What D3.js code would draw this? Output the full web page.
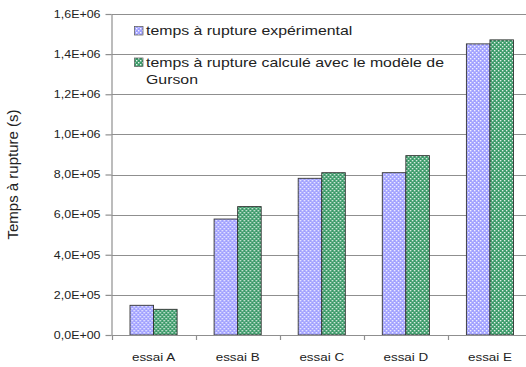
<!DOCTYPE html>
<html><head><meta charset="utf-8">
<script src="https://cdn.jsdelivr.net/npm/d3@7"></script>
<style>
html,body{margin:0;padding:0;background:#fff;}
svg{display:block;font-family:"Liberation Sans",Arial,sans-serif;}
</style></head>
<body>
<svg id="chart" width="526" height="367"></svg>
<script>
const categories = ["essai A","essai B","essai C","essai D","essai E"];
const seriesNames = ["temps à rupture expérimental","temps à rupture calculé avec le modèle de Gurson"];
const experimental = [148000, 578000, 781000, 809000, 1451000];
const gurson = [128000, 640000, 809000, 894000, 1471000];
const yTicks = [0,200000,400000,600000,800000,1000000,1200000,1400000,1600000];
const yTitle = "Temps à rupture (s)";

(function(){
const svg = d3.select("#chart");
const W = 526, H = 367;
const mLeft = 111.5, mRight = 532, mTop = 14, mBottom = 335;
const SX = 1.22; // horizontal text stretch seen in the reference

const defs = svg.append("defs");
function pat(id, base){
  const p = defs.append("pattern").attr("id", id).attr("patternUnits","userSpaceOnUse")
    .attr("width",4).attr("height",4);
  p.append("rect").attr("width",4).attr("height",4).attr("fill",base);
  p.append("rect").attr("x",0).attr("y",0).attr("width",1.4).attr("height",1.4).attr("fill","#fff").attr("opacity",0.9);
  p.append("rect").attr("x",2).attr("y",2).attr("width",1.4).attr("height",1.4).attr("fill","#fff").attr("opacity",0.9);
}
pat("pBlue", "#a0a0ff");
pat("pGreen", "#3a9a68");
const fills = ["url(#pBlue)","url(#pGreen)"];

const y = d3.scaleLinear().domain([0,1600000]).range([mBottom, mTop]);
const x = d3.scaleBand().domain(categories).range([mLeft, mRight]).padding(0);
const bw = x.bandwidth();
const xs = d3.scaleBand().domain(seriesNames).range([bw*0.22, bw*0.78]).padding(0);

function fmt(v){
  if (v === 0) return "0,0E+00";
  const e = Math.floor(Math.log10(v));
  const m = v/Math.pow(10,e);
  return m.toFixed(1).replace(".",",") + "E+" + String(e).padStart(2,"0");
}

svg.append("g").selectAll("line").data(yTicks.filter(d=>d>0)).join("line")
  .attr("x1", mLeft).attr("x2", W)
  .attr("y1", d=>Math.round(y(d))+0.5).attr("y2", d=>Math.round(y(d))+0.5)
  .attr("stroke","#8f8f8f").attr("stroke-width",1.2);

const gy = svg.append("g").attr("transform",`translate(${mLeft},0)`)
  .call(d3.axisLeft(y).tickValues(yTicks).tickFormat(fmt).tickSize(6).tickPadding(5).tickSizeOuter(0));
gy.select(".domain").attr("stroke","#8f8f8f").attr("stroke-width",1.2);
gy.selectAll(".tick line").attr("stroke","#8f8f8f").attr("stroke-width",1.2);
gy.selectAll(".tick text").attr("font-size",10.2).attr("fill","#222")
  .attr("font-family","'Liberation Sans',Arial,sans-serif")
  .each(function(){
    const t = d3.select(this);
    const xx = +t.attr("x");
    t.attr("x",0).attr("transform",`translate(${xx},0) scale(${SX},1)`);
  });

const data = categories.map((c,i)=>({c, vals:[experimental[i], gurson[i]]}));
const groups = svg.append("g").selectAll("g").data(data).join("g")
  .attr("transform", d=>`translate(${x(d.c)},0)`);
groups.selectAll("rect").data(d=>d.vals.map((v,j)=>({v, s:seriesNames[j], j}))).join("rect")
  .attr("x", d=>xs(d.s)).attr("width", xs.bandwidth())
  .attr("y", d=>y(d.v)).attr("height", d=>mBottom - y(d.v))
  .attr("fill", d=>fills[d.j]).attr("stroke","#333").attr("stroke-width",0.9);

const gx = svg.append("g").attr("transform",`translate(0,${mBottom})`);
gx.append("line").attr("x1",mLeft).attr("x2",W).attr("y1",0.5).attr("y2",0.5)
  .attr("stroke","#8f8f8f").attr("stroke-width",1.2);
gx.selectAll("line.t").data(categories).join("line").attr("class","t")
  .attr("x1", d=>Math.round(x(d))+0.5).attr("x2", d=>Math.round(x(d))+0.5)
  .attr("y1",0).attr("y2",5).attr("stroke","#8f8f8f").attr("stroke-width",1.2);
gx.selectAll("text").data(categories).join("text")
  .attr("transform", d=>`translate(${x(d)+bw/2},26) scale(${SX},1)`)
  .attr("text-anchor","middle").attr("font-size",11).attr("fill","#222").text(d=>d);

svg.append("text").attr("transform",`translate(17.5,${(mTop+mBottom)/2}) rotate(-90)`)
  .attr("text-anchor","middle").attr("font-size",15).attr("fill","#222").text(yTitle);

const leg = svg.append("g");
const legLines = [[ "temps à rupture expérimental" ], [ "temps à rupture calculé avec le modèle de", "Gurson" ]];
const legBase = [35, 66.5];
seriesNames.forEach((s,i)=>{
  leg.append("rect").attr("x",134.5).attr("y",legBase[i]-8.5).attr("width",8.5).attr("height",8.5)
    .attr("fill",fills[i]).attr("stroke","#555").attr("stroke-width",0.7);
  const t = leg.append("text").attr("transform",`translate(146,${legBase[i]}) scale(${SX},1)`)
    .attr("font-size",13).attr("fill","#222");
  legLines[i].forEach((ln,k)=>{
    t.append("tspan").attr("x",0).attr("dy", k===0?0:17.5).text(ln);
  });
});
})();
</script>
</body></html>
